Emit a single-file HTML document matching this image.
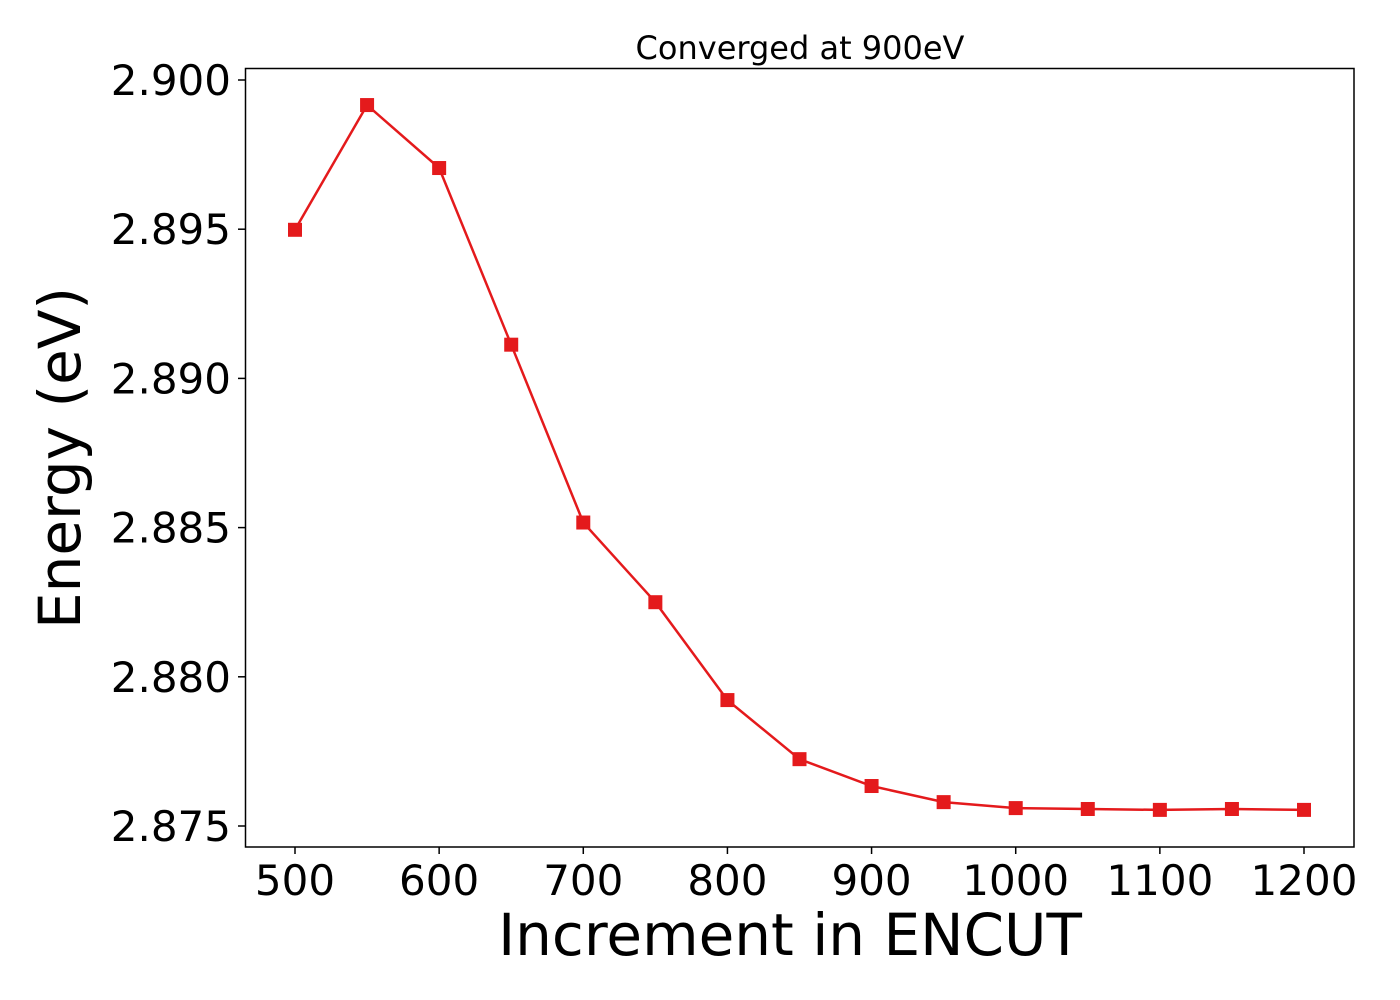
<!DOCTYPE html>
<html><head><meta charset="utf-8"><style>
body{margin:0;background:#fff}
svg{display:block;font-family:"DejaVu Sans","Liberation Sans",sans-serif}
</style></head><body>
<svg id="chart" width="1400" height="1000" viewBox="0 0 1400 1000" xmlns="http://www.w3.org/2000/svg">
<rect width="1400" height="1000" fill="#fff"/>
<text x="800" y="59" font-size="32" text-anchor="middle">Converged at 900eV</text>
<g id="xticks"></g><g id="yticks"></g>
<polyline id="line" fill="none" stroke="#e41a1c" stroke-width="2.5"/>
<g id="marks"></g>
<rect x="245.5" y="68.5" width="1108.5" height="778.5" fill="none" stroke="#000" stroke-width="1.5"/>
<text x="790" y="955" font-size="58" text-anchor="middle">Increment in ENCUT</text>
<text transform="translate(80,458) rotate(-90)" font-size="58" text-anchor="middle">Energy (eV)</text>
</svg>
<script>
const categories=[500,550,600,650,700,750,800,850,900,950,1000,1050,1100,1150,1200];
const energies=[2.89498,2.89916,2.89705,2.89113,2.88517,2.88250,2.87922,2.87724,2.87634,2.87580,2.87560,2.87557,2.87554,2.87557,2.87554];
const xTicks=[500,600,700,800,900,1000,1100,1200];
const yTicks=[2.875,2.880,2.885,2.890,2.895,2.900];
const yTickLabels=["2.875","2.880","2.885","2.890","2.895","2.900"];
const NS="http://www.w3.org/2000/svg";
function xs(v){return 295+(v-500)*(1304-295)/700;}
function ys(v){return 826-(v-2.875)*(826-80)/0.025;}
const xg=document.getElementById('xticks'),yg=document.getElementById('yticks'),mg=document.getElementById('marks');
xTicks.forEach(t=>{
 const l=document.createElementNS(NS,'line');
 
 
 l.setAttribute('x1',xs(t));l.setAttribute('x2',xs(t));l.setAttribute('y1',847);l.setAttribute('y2',854);l.setAttribute('stroke','#000');l.setAttribute('stroke-width','1.5');xg.appendChild(l);
 const tx=document.createElementNS(NS,'text');
 
 
 tx.setAttribute('x',xs(t));tx.setAttribute('y',895);tx.setAttribute('font-size','42');tx.setAttribute('text-anchor','middle');tx.textContent=t;xg.appendChild(tx);
});
yTicks.forEach((t,i)=>{
 const l=document.createElementNS(NS,'line');
 
 
 l.setAttribute('x1',238);l.setAttribute('x2',245.5);l.setAttribute('y1',ys(t));l.setAttribute('y2',ys(t));l.setAttribute('stroke','#000');l.setAttribute('stroke-width','1.5');yg.appendChild(l);
 const tx=document.createElementNS(NS,'text');
 
 
 tx.setAttribute('x',231);tx.setAttribute('y',ys(t)+15);tx.setAttribute('font-size','42');tx.setAttribute('text-anchor','end');tx.textContent=yTickLabels[i];yg.appendChild(tx);
});
document.getElementById('line').setAttribute('points',categories.map((c,i)=>xs(c)+','+ys(energies[i])).join(' '));
categories.forEach((c,i)=>{
 const r=document.createElementNS(NS,'rect');
 
 
 r.setAttribute('x',xs(c)-7);r.setAttribute('y',ys(energies[i])-7);r.setAttribute('width',14);r.setAttribute('height',14);r.setAttribute('fill','#e41a1c');mg.appendChild(r);
});
</script>
</body></html>
